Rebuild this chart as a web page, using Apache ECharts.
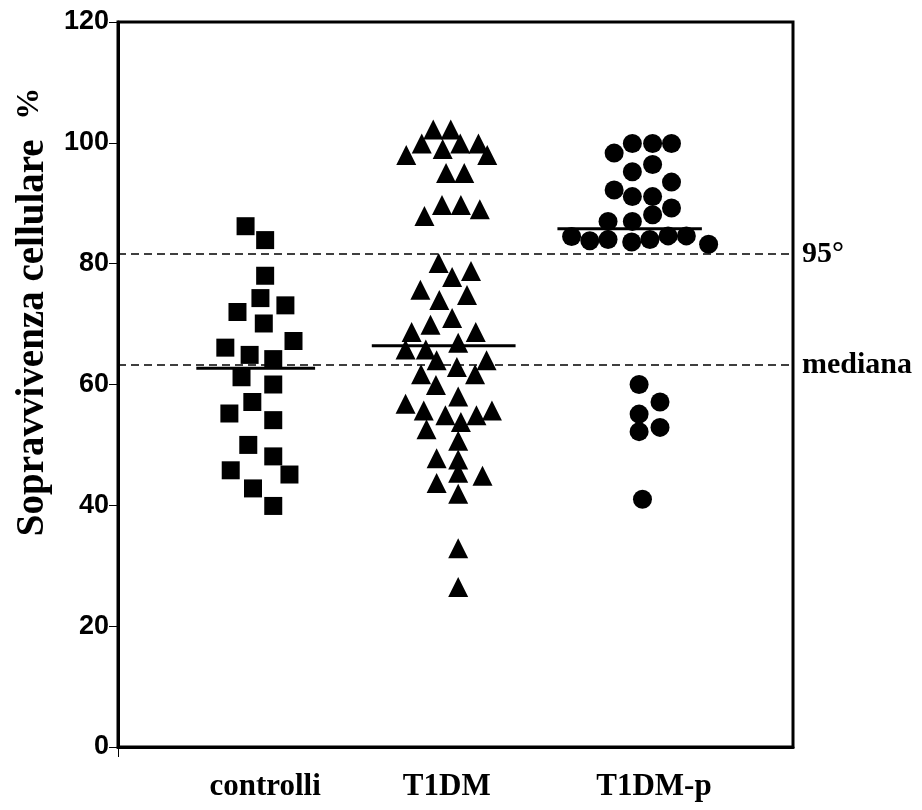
<!DOCTYPE html>
<html>
<head>
<meta charset="utf-8">
<script src="https://cdn.jsdelivr.net/npm/echarts@6/dist/echarts.min.js"></script>
<style>
  html, body { margin: 0; padding: 0; background: #fff; }
  #chart { width: 922px; height: 810px; }
</style>
</head>
<body>
<div id="chart"></div>
<script>
// ---- data ----
const categories = ['controlli', 'T1DM', 'T1DM-p'];
const categoryCenters = [21.8, 48.7, 79.4];           // horizontal scale 0..100
const yTicks = [0, 20, 40, 60, 80, 100, 120];

// [x (jitter position, 0..100 scale), survival %]
const controlliPoints = [
  [18.9, 86.2], [21.8, 83.9], [21.8, 78.0], [21.1, 74.3], [17.7, 72.0], [24.8, 73.1],
  [21.6, 70.1], [26.0, 67.2], [15.9, 66.1], [19.5, 64.9], [23.0, 64.2], [18.3, 61.2],
  [23.0, 60.0], [19.9, 57.1], [16.5, 55.2], [23.0, 54.1], [19.3, 50.0], [23.0, 48.1],
  [16.7, 45.8], [25.4, 45.1], [20.0, 42.8], [23.0, 39.9]
];
const t1dmPoints = [
  [46.7, 102.2], [49.3, 102.2], [45.0, 99.9], [50.7, 99.9], [53.4, 99.9], [48.1, 99.0],
  [42.7, 98.0], [54.7, 98.0], [48.6, 95.0], [51.3, 95.0], [48.0, 89.7], [50.8, 89.7],
  [53.6, 89.0], [45.4, 87.9], [47.5, 80.1], [52.3, 78.8], [49.5, 77.8], [44.8, 75.7],
  [51.7, 74.8], [47.6, 74.0], [49.5, 71.0], [46.3, 69.9], [43.5, 68.7], [53.0, 68.7],
  [50.4, 66.9], [42.6, 65.8], [45.6, 65.8], [47.2, 64.0], [50.2, 62.9], [54.6, 64.0],
  [44.9, 61.7], [52.9, 61.7], [47.1, 59.9], [50.4, 58.0], [42.6, 56.8], [45.3, 55.7],
  [48.5, 54.9], [53.1, 54.9], [55.4, 55.7], [50.8, 53.8], [45.7, 52.6], [50.4, 50.7],
  [50.4, 47.6], [47.2, 47.8], [50.4, 45.4], [54.0, 44.9], [47.2, 43.7], [50.4, 41.9],
  [50.4, 32.9], [50.4, 26.5]
];
const t1dmpPoints = [
  [76.2, 99.9], [79.2, 99.9], [82.0, 99.9], [73.5, 98.3], [76.2, 95.2], [79.2, 96.4],
  [82.0, 93.5], [73.5, 92.2], [76.2, 91.1], [79.2, 91.1], [82.0, 89.2], [79.2, 88.1],
  [72.6, 87.0], [76.2, 87.0],
  [67.2, 84.5], [69.9, 83.8], [72.6, 84.0], [76.1, 83.6], [78.8, 84.0], [81.5, 84.6],
  [84.2, 84.6], [87.5, 83.2],
  [77.2, 60.0], [80.3, 57.1], [77.2, 55.1], [77.2, 52.2], [80.3, 52.9], [77.7, 41.0]
];

// group medians: [value, from x, to x]
const groupMedians = [
  [62.7, 11.6, 29.2],
  [66.4, 37.6, 58.9],
  [85.8, 65.1, 86.5]
];
// reference lines
const refValues = [81.6, 63.2];
const refLabels = ['95°', 'mediana'];

// ---- chart ----
const chart = echarts.init(document.getElementById('chart'), null, { renderer: 'canvas' });

const SERIF = '"Liberation Serif", "Times New Roman", serif';
const SANS = '"Liberation Sans", Arial, sans-serif';

const medianSeries = groupMedians.map((m, i) => ({
  name: 'median-' + categories[i],
  type: 'line',
  data: [[m[1], m[0]], [m[2], m[0]]],
  symbol: 'none',
  silent: true,
  z: 3,
  lineStyle: { color: '#000', width: 3, type: 'solid' }
}));

const markerStyle = { color: '#000', opacity: 1 };

const option = {
  backgroundColor: '#fff',
  animation: false,
  grid: {
    left: 118, top: 22, width: 675, height: 725,
    show: true, borderColor: '#000', borderWidth: 3, backgroundColor: 'transparent'
  },
  xAxis: {
    type: 'value', min: 0, max: 100,
    splitLine: { show: false },
    axisLine: { show: true, lineStyle: { color: '#000', width: 3 } },
    axisTick: { show: true, length: 10, lineStyle: { color: '#000', width: 1 }, customValues: [0] },
    axisLabel: {
      show: true,
      customValues: categoryCenters,
      formatter: function (v) {
        let best = 0, bd = 1e9;
        categoryCenters.forEach((c, i) => { const d = Math.abs(c - v); if (d < bd) { bd = d; best = i; } });
        return categories[best];
      },
      margin: 24,
      color: '#000', fontFamily: SERIF, fontWeight: 'bold', fontSize: 31
    }
  },
  yAxis: {
    type: 'value', min: 0, max: 120, interval: 20,
    splitLine: { show: false },
    axisLine: { show: true, lineStyle: { color: '#000', width: 3 } },
    axisTick: { show: true, length: 9, lineStyle: { color: '#000', width: 1 } },
    axisLabel: {
      margin: 9,
      color: '#000', fontFamily: SANS, fontWeight: 'bold', fontSize: 27,
      formatter: function (v) { return yTicks.indexOf(v) >= 0 ? String(v) : ''; }
    }
  },
  graphic: [{
    type: 'text',
    x: 33, y: 312,
    rotation: Math.PI / 2,
    style: {
      text: '{a|Sopravvivenza cellulare  }{b|%}',
      textAlign: 'center', textVerticalAlign: 'middle',
      fill: '#000',
      rich: {
        a: { fontFamily: SERIF, fontWeight: 'bold', fontSize: 39, fill: '#000' },
        b: { fontFamily: SERIF, fontWeight: 'bold', fontSize: 32, fill: '#000', verticalAlign: 'top' }
      }
    }
  }],
  series: [
    {
      name: 'riferimenti',
      type: 'line',
      data: [],
      silent: true,
      markLine: {
        silent: true,
        symbol: 'none',
        animation: false,
        lineStyle: { color: '#000', width: 1.5, type: [8, 5], opacity: 1 },
        label: {
          show: true, position: 'end', distance: 9,
          color: '#000', fontFamily: SERIF, fontWeight: 'bold', fontSize: 30,
          formatter: function (p) { return refLabels[p.dataIndex]; }
        },
        data: refValues.map(v => ({ yAxis: v }))
      }
    },
    {
      name: categories[0], type: 'scatter', data: controlliPoints,
      symbol: 'rect', symbolSize: 18, itemStyle: markerStyle, z: 2
    },
    {
      name: categories[1], type: 'scatter', data: t1dmPoints,
      symbol: 'triangle', symbolSize: 20, itemStyle: markerStyle, z: 2
    },
    {
      name: categories[2], type: 'scatter', data: t1dmpPoints,
      symbol: 'circle', symbolSize: 19, itemStyle: markerStyle, z: 2
    }
  ].concat(medianSeries)
};

chart.setOption(option);
</script>
</body>
</html>
